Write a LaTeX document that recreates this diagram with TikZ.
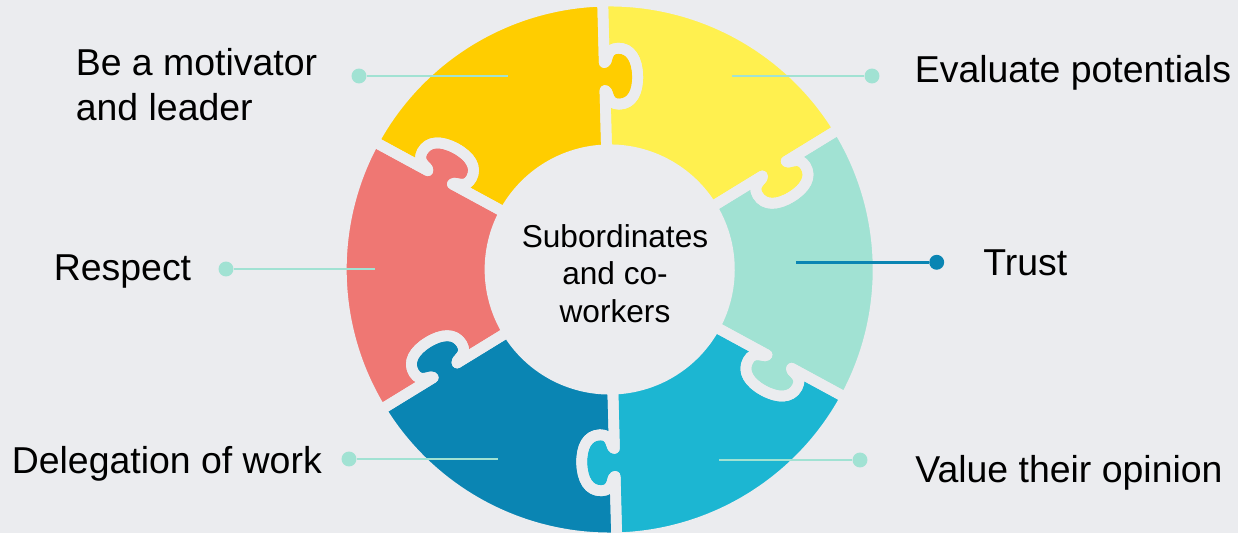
\documentclass[tikz,border=0pt]{standalone}
\usepackage{fontspec}
\setmainfont{Liberation Sans}
\newcommand{\A}{Be a motivator\\and leader}
\newcommand{\B}{Evaluate potentials}
\newcommand{\C}{Respect}
\newcommand{\D}{Trust}
\newcommand{\E}{Delegation of work}
\newcommand{\F}{Value their opinion}
\newcommand{\hubname}{Subordinates\\and co-\\workers}
\definecolor{paper}{HTML}{EBECEF}
\definecolor{goldpc}{HTML}{FFCD00}
\definecolor{yellowpc}{HTML}{FFF04F}
\definecolor{mintpc}{HTML}{A1E2D3}
\definecolor{cyanpc}{HTML}{1CB6D2}
\definecolor{bluepc}{HTML}{0A85B3}
\definecolor{redpc}{HTML}{EF7773}
% one puzzle piece, 0..60 deg, knob on the 0 edge, socket on the 60 edge
\newcommand{\piecepath}{(119.7,0) -- (179,0)
    .. controls (179,-4) and (165,-1) .. (165,-14)
    .. controls (165,-27) and (177,-33) .. (193,-33)
    .. controls (209,-33) and (221,-27) .. (221,-14)
    .. controls (221,-1) and (207,-4) .. (207,0)
    -- (268.4,0) arc[start angle=0, end angle=60, radius=268.4]
    -- ([rotate=60]207,0)
    .. controls ([rotate=60]207,-4) and ([rotate=60]221,-1) .. ([rotate=60]221,-14)
    .. controls ([rotate=60]221,-27) and ([rotate=60]209,-33) .. ([rotate=60]193,-33)
    .. controls ([rotate=60]177,-33) and ([rotate=60]165,-27) .. ([rotate=60]165,-14)
    .. controls ([rotate=60]165,-1) and ([rotate=60]179,-4) .. ([rotate=60]179,0)
    -- ([rotate=60]119.7,0) arc[start angle=60, end angle=0, radius=119.7] -- cycle}

\begin{document}
\begin{tikzpicture}[x=0.02cm, y=0.02cm,
    gap/.style={draw=paper, line width=6.1pt, line join=round},
    lbl/.style={anchor=base west, inner sep=0pt, align=left,
        font=\fontsize{21.3}{25.5}\selectfont},
    dot/.style={circle, fill=#1, inner sep=0pt, minimum size=8.5pt},
    lead/.style={draw=#1, line width=1.5pt}]
    \fill[paper] (0,0) rectangle (1238,533);
    \useasboundingbox (0,0) rectangle (1238,533);
    \coordinate (hub) at (609.7,263.5);

    % ring
    \foreach \a/\col in {31.5/yellowpc, 91.5/goldpc, 151.5/redpc,
                         211.5/bluepc, 271.5/cyanpc, 331.5/mintpc}
        \fill[\col, shift={(hub)}, rotate=\a] \piecepath;
    \foreach \a in {31.5, 91.5, 151.5, 211.5, 271.5, 331.5}
        \draw[gap, shift={(hub)}, rotate=\a] \piecepath;

    \node[inner sep=0pt, align=center, font=\fontsize{18}{21.5}\selectfont]
        (center) at (615,259.5) {\hubname};

    % leaders
    \node[dot=mintpc] (dA) at (359,457) {};
    \node[dot=mintpc] (dB) at (872,457) {};
    \node[dot=mintpc] (dC) at (226,264) {};
    \node[dot=bluepc] (dD) at (936.7,270.7) {};
    \node[dot=mintpc] (dE) at (349,74) {};
    \node[dot=mintpc] (dF) at (860,73) {};
    \coordinate (eA) at (508,457);
    \coordinate (eB) at (732,457);
    \coordinate (eC) at (374.5,264);
    \coordinate (eD) at (796,270.7);
    \coordinate (eE) at (498,74);
    \coordinate (eF) at (719,73);
    \draw[lead=mintpc] (dA) -- (eA);
    \draw[lead=mintpc] (dB) -- (eB);
    \draw[lead=mintpc] (dC) -- (eC);
    \draw[lead=bluepc] (dD) -- (eD);
    \draw[lead=mintpc] (dE) -- (eE);
    \draw[lead=mintpc] (dF) -- (eF);

    % labels
    \node[lbl] (tA) at (75.5,412.3) {\A};
    \node[lbl] (tB) at (914.5,450.3) {\B};
    \node[lbl] (tC) at (53.5,252.3) {\C};
    \node[lbl] (tD) at (983,257.3) {\D};
    \node[lbl] (tE) at (11.5,59) {\E};
    \node[lbl] (tF) at (915,50) {\F};
\end{tikzpicture}
\end{document}
